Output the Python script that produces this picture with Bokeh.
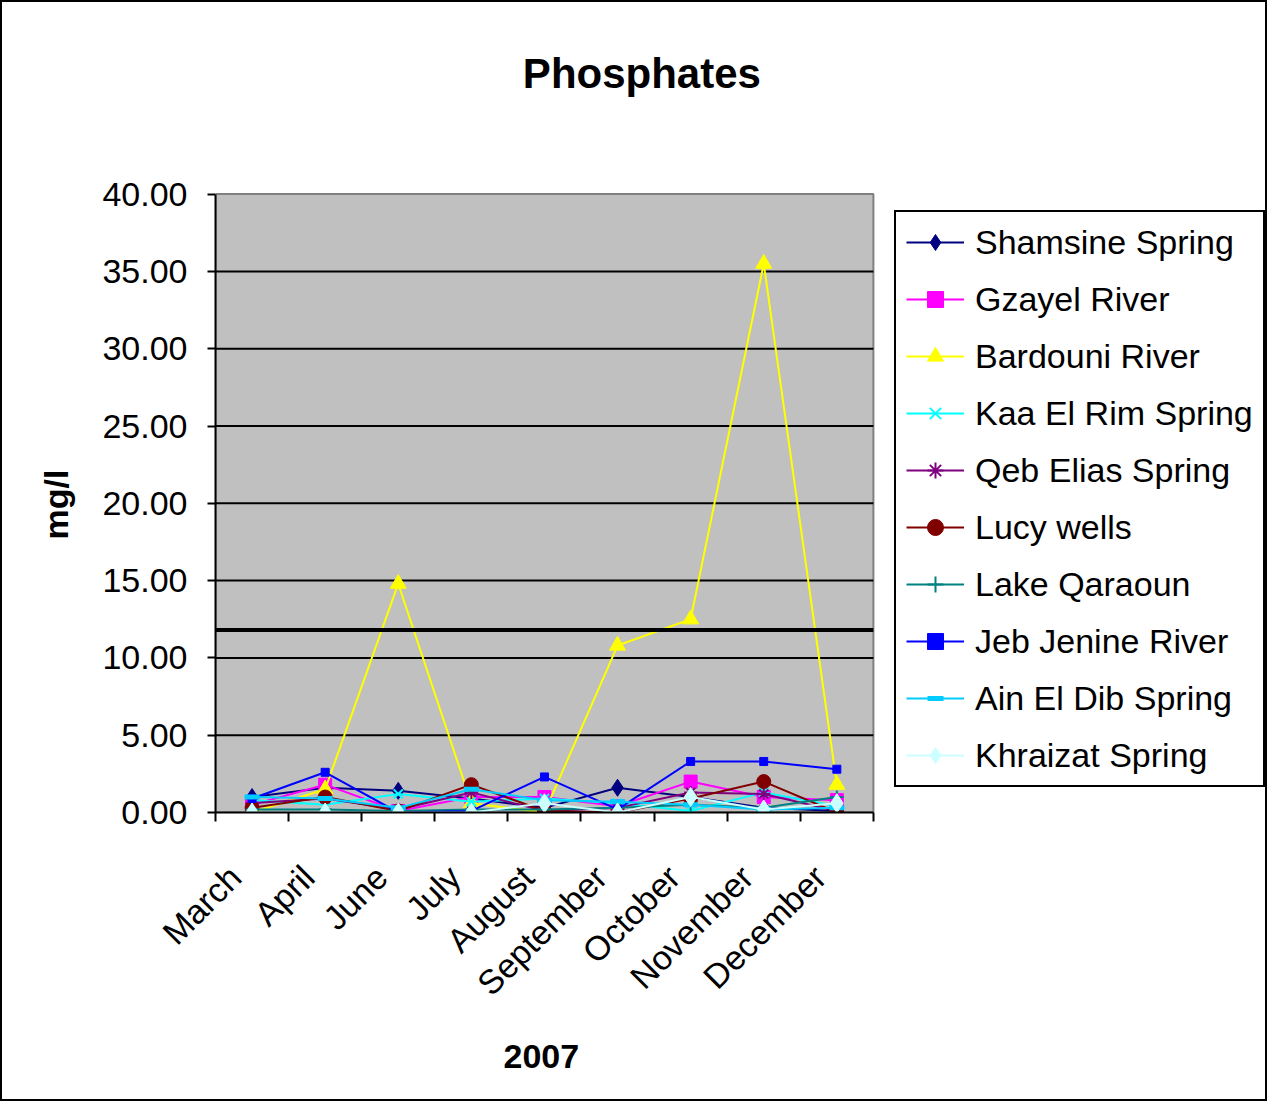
from bokeh.plotting import figure
from bokeh.models import (Range1d, FixedTicker, PrintfTickFormatter, Legend, LegendItem,
                          BoxAnnotation, Label, Title)
from bokeh.embed import file_html
from bokeh.resources import INLINE
import math

months = ["March", "April", "June", "July", "August", "September", "October", "November", "December"]

shamsine   = [1.0, 1.6, 1.4, 0.9, 0.3, 1.6, 1.0, 0.3, 0.1]
gzayel     = [0.5, 1.8, 0.1, 1.0, 1.0, 0.4, 2.0, 1.0, 0.8]
bardouni   = [0.0, 1.5, 14.8, 0.6, 0.0, 10.8, 12.5, 35.5, 1.8]
kaa_el_rim = [0.8, 0.5, 1.2, 0.7, 0.9, 0.6, 0.1, 1.3, 0.4]
qeb_elias  = [0.6, 0.9, 0.2, 1.3, 0.1, 0.3, 1.3, 1.2, 0.1]
lucy       = [0.3, 1.0, 0.1, 1.8, 0.1, 0.0, 0.9, 2.0, 0.0]
qaraoun    = [0.2, 0.2, 0.1, 0.2, 0.2, 0.3, 0.5, 0.3, 1.0]
jeb_jenine = [0.9, 2.6, 0.0, 0.1, 2.3, 0.2, 3.3, 3.3, 2.8]
ain_el_dib = [1.0, 0.9, 0.3, 1.5, 0.8, 0.7, 0.5, 0.2, 0.3]
khraizat   = [0.0, 0.0, 0.0, 0.0, 0.6, 0.0, 1.0, 0.2, 0.6]

limit = 11.8
y_ticks = [0, 5, 10, 15, 20, 25, 30, 35, 40]

series = [
    ("Shamsine Spring", shamsine, "#000080", "diamond", 17),
    ("Gzayel River", gzayel, "#FF00FF", "square", 13),
    ("Bardouni River", bardouni, "#FFFF00", "triangle", 16),
    ("Kaa El Rim Spring", kaa_el_rim, "#00FFFF", "x", 13),
    ("Qeb Elias Spring", qeb_elias, "#800080", "asterisk", 13),
    ("Lucy wells", lucy, "#800000", "circle", 14),
    ("Lake Qaraoun", qaraoun, "#008080", "cross", 13),
    ("Jeb Jenine River", jeb_jenine, "#0000FF", "square", 8),
    ("Ain El Dib Spring", ain_el_dib, "#00CCFF", "dash", 15),
    ("Khraizat Spring", khraizat, "#CCFFFF", "diamond", 19),
]

FONT = "Liberation Sans"
n = len(months)
ymax = y_ticks[-1]

xs = [i + 0.5 for i in range(n)]
label_pos = [i + 0.27 for i in range(n)]

# the frame spans the chart to the right and top so that legend and title are not clipped;
# the grey plot area is drawn as a box over [0, n] x [0, ymax]
p = figure(width=1267, height=1101, output_backend="svg", toolbar_location=None, title=None,
           x_range=Range1d(0, 14.364), y_range=Range1d(0, 51.10),
           min_border_left=213, min_border_right=4, min_border_top=20, min_border_bottom=291)
p.styles = {"border": "2px solid black"}
p.background_fill_color = "white"
p.border_fill_color = "white"
p.outline_line_color = None

p.add_layout(BoxAnnotation(left=0, right=n, bottom=0, top=ymax, fill_color="#C0C0C0", fill_alpha=1,
                           line_color="#808080", line_width=2, line_alpha=1, level="image"))

p.xgrid.visible = False
p.ygrid.visible = False
grid_y = y_ticks[1:-1]
p.segment(x0=[0] * len(grid_y), x1=[n] * len(grid_y), y0=grid_y, y1=grid_y,
          line_color="black", line_width=2, level="underlay")

# x axis
p.xaxis.bounds = (0, n)
p.xaxis.ticker = FixedTicker(ticks=label_pos, minor_ticks=list(range(n + 1)))
p.xaxis.major_label_overrides = {x: m for x, m in zip(label_pos, months)}
p.xaxis.major_label_orientation = math.pi / 4
p.xaxis.major_label_standoff = 50
p.xaxis.major_tick_out = 0
p.xaxis.major_tick_in = 0
p.xaxis.minor_tick_out = 9
p.xaxis.minor_tick_in = 0
p.xaxis.minor_tick_line_color = "black"
p.xaxis.minor_tick_line_width = 2
p.xaxis.axis_line_width = 2
p.xaxis.major_label_text_font = FONT
p.xaxis.major_label_text_font_size = "34px"
p.xaxis.major_label_text_color = "black"

# y axis
p.yaxis.bounds = (0, ymax)
p.yaxis.ticker = FixedTicker(ticks=y_ticks)
p.yaxis.formatter = PrintfTickFormatter(format="%.2f")
p.yaxis.major_tick_out = 8
p.yaxis.major_tick_in = 0
p.yaxis.minor_tick_out = 0
p.yaxis.minor_tick_in = 0
p.yaxis.major_tick_line_width = 2
p.yaxis.axis_line_width = 2
p.yaxis.major_label_standoff = 20
p.yaxis.major_label_text_font = FONT
p.yaxis.major_label_text_font_size = "34px"
p.yaxis.major_label_text_color = "black"

# axis titles, aligned on the grey plot area rather than on the whole frame
p.add_layout(Title(text="2007", align="left", offset=288, standoff=48, text_font=FONT,
                   text_font_style="bold", text_font_size="34px", text_color="black"), "below")
p.add_layout(Title(text="mg/l", align="left", offset=273, standoff=50, text_font=FONT,
                   text_font_style="bold", text_font_size="34px", text_color="black"), "left")

items = []
for name, vals, color, marker, size in series:
    r1 = p.line(xs, vals, line_color=color, line_width=2)
    if marker == "dash":
        r2 = p.scatter(xs, vals, marker="dash", size=size, line_color=color, line_width=5)
    elif marker in ("x", "asterisk", "cross"):
        r2 = p.scatter(xs, vals, marker=marker, size=size, line_color=color, line_width=2)
    else:
        r2 = p.scatter(xs, vals, marker=marker, size=size, fill_color=color, line_color=color)
    items.append(LegendItem(label=name, renderers=[r1, r2]))

p.segment(x0=[0], x1=[n], y0=[limit], y1=[limit], line_color="black", line_width=4)

legend = Legend(items=items, location=(679, 25))
legend.label_text_font = FONT
legend.label_text_font_size = "34px"
legend.label_text_color = "black"
legend.border_line_color = "black"
legend.border_line_alpha = 1
legend.border_line_width = 2
legend.background_fill_color = "white"
legend.background_fill_alpha = 1
legend.glyph_width = 58
legend.glyph_height = 40
legend.label_height = 40
legend.label_standoff = 11
legend.spacing = 17
legend.padding = 10
legend.margin = 0
p.add_layout(legend)

p.add_layout(Label(x=5.833, y=47.80, text="Phosphates", text_align="center", text_baseline="middle",
                   text_font=FONT, text_font_style="bold", text_font_size="42px", text_color="black"))

open("out.html", "w").write(file_html(p, INLINE))
